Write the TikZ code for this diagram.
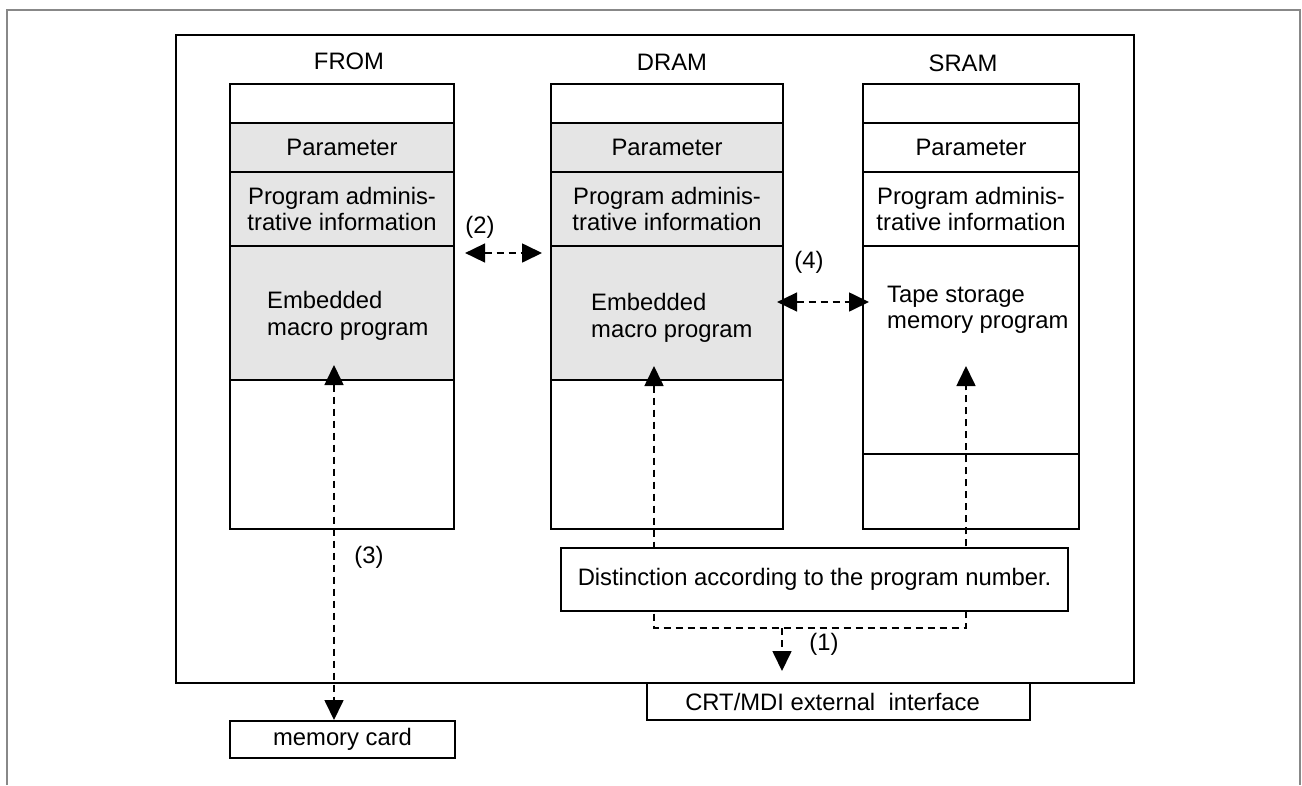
\documentclass[tikz,border=0pt]{standalone}
\usepackage{fontspec}
\setmainfont{Liberation Sans}
\usetikzlibrary{arrows.meta}
\definecolor{rowgray}{RGB}{229,229,229}
\definecolor{framegray}{RGB}{136,136,136}
\tikzset{
  box/.style={draw, line width=2.1pt, inner sep=0pt, anchor=north west},
  shaded/.style={fill=rowgray},
  txt/.style={inner sep=0pt},
  dsh/.style={line width=1.7pt, dash pattern=on 7pt off 5pt},
  onetip/.style={-{Triangle[length=20pt,width=19pt]}},
  twotip/.style={{Triangle[length=20pt,width=19pt]}-{Triangle[length=20pt,width=19pt]}},
}
\begin{document}
\begin{tikzpicture}[x=1pt, y=-1pt, font=\fontsize{23.8}{26.5}\selectfont]
\useasboundingbox (0,0) rectangle (1302,785);
% page frame
\draw[framegray, line width=2pt] (7,785) -- (7,10) -- (1300,10) -- (1300,785);
% main frame
\node[box, minimum width=958pt, minimum height=648pt] (frame) at (175,34) {};
% column titles
\node[txt] (tfrom) at (349,61) {FROM};
\node[txt] (tdram) at (672,62) {DRAM};
\node[txt] (tsram) at (963,63.5) {SRAM};
% FROM column
\node[box, minimum width=224pt, minimum height=39pt] (f1) at (229,83) {};
\node[box, shaded, minimum width=224pt, minimum height=49pt] (f2) at (229,122) {Parameter};
\node[box, shaded, minimum width=224pt, minimum height=74pt, align=center] (f3) at (229,171) {Program adminis-\\trative information};
\node[box, shaded, minimum width=224pt, minimum height=134pt] (f4) at (229,245) {};
\node[box, minimum width=224pt, minimum height=149pt] (f5) at (229,379) {};
\node[txt, anchor=west, align=left] (fe) at (267,316) {Embedded\\macro program};
% DRAM column
\node[box, minimum width=232pt, minimum height=39pt] (d1) at (550,83) {};
\node[box, shaded, minimum width=232pt, minimum height=49pt] (d2) at (550,122) {Parameter};
\node[box, shaded, minimum width=232pt, minimum height=74pt, align=center] (d3) at (550,171) {Program adminis-\\trative information};
\node[box, shaded, minimum width=232pt, minimum height=134pt] (d4) at (550,245) {};
\node[box, minimum width=232pt, minimum height=149pt] (d5) at (550,379) {};
\node[txt, anchor=west, align=left] (de) at (591,318) {Embedded\\macro program};
% SRAM column
\node[box, minimum width=216pt, minimum height=39pt] (s1) at (862,83) {};
\node[box, minimum width=216pt, minimum height=49pt] (s2) at (862,122) {Parameter};
\node[box, minimum width=216pt, minimum height=74pt, align=center] (s3) at (862,171) {Program adminis-\\trative information};
\node[box, minimum width=216pt, minimum height=208pt] (s4) at (862,245) {};
\node[box, minimum width=216pt, minimum height=75pt] (s5) at (862,453) {};
\node[txt, anchor=west, align=left] (se) at (887,310) {Tape storage\\memory program};
% outside boxes
\node[box, minimum width=225pt, minimum height=37pt] (mc) at (229,720) {memory card};
\node[box, minimum width=383pt, minimum height=37pt] (crt) at (646,682) {CRT/MDI external~~interface\hspace*{12pt}};
% connector (2)
\draw[dsh, twotip] ([xshift=10pt,yshift=-8pt]f4.north east) -- ([xshift=-8pt,yshift=-8pt]d4.north west);
\node[txt] (l2) at (480,227) {(2)};
% connector (4)
\draw[dsh, twotip] ([xshift=-7pt,yshift=-57pt]d4.north east) -- ([xshift=7pt,yshift=-57pt]s4.north west);
\node[txt] (l4) at (809,262) {(4)};
% connector (3)
\coordinate (t3) at (334,365);
\draw[dsh, twotip] (t3) -- (t3 |- mc.north);
\node[txt] (l3) at (369,557) {(3)};
% connector (1)
\coordinate (t1) at (654,366);
\coordinate (t2) at (966,366);
\coordinate (b1) at (654,628);
\coordinate (b2) at (966,628);
\coordinate (bm) at (782,628);
\draw[dsh, twotip] (t1) -- (b1) -- (b2) -- (t2);
\draw[dsh, onetip] (bm) -- ([yshift=11pt]crt.north -| bm);
\node[txt] (l1) at (824,644) {(1)};
% distinction box
\node[box, fill=white, minimum width=507pt, minimum height=63pt] (dist) at (560,547) {Distinction according to the program number.};
\end{tikzpicture}
\end{document}
